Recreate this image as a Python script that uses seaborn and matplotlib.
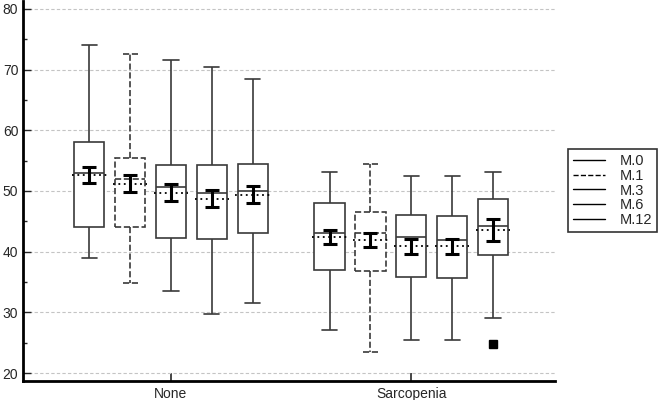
import numpy as np
import pandas as pd
import matplotlib
matplotlib.use("Agg")
import matplotlib.pyplot as plt
from matplotlib.lines import Line2D
from matplotlib.ticker import MultipleLocator
import seaborn as sns

# values
groups = ["None", "Sarcopenia"]
series = ["M.0", "M.1", "M.3", "M.6", "M.12"]

# box statistics per group, one value per series
whisker_low = [[39.0, 34.8, 33.5, 29.7, 31.5],
               [27.1, 23.5, 25.5, 25.5, 29.0]]
q1 = [[44.1, 44.0, 42.3, 42.1, 43.0],
      [37.0, 36.8, 35.8, 35.6, 39.4]]
median = [[53.0, 52.0, 50.7, 49.6, 50.0],
          [43.0, 43.0, 42.4, 41.9, 44.3]]
q3 = [[58.0, 55.5, 54.3, 54.3, 54.5],
      [48.1, 46.6, 46.0, 45.8, 48.7]]
whisker_high = [[74.1, 72.6, 71.5, 70.5, 68.5],
                [53.1, 54.4, 52.4, 52.4, 53.1]]

# mean and its confidence interval
mean = [[52.6, 51.2, 49.7, 48.7, 49.4],
        [42.5, 41.9, 40.9, 40.9, 43.6]]
ci_low = [[51.3, 49.8, 48.4, 47.4, 48.0],
          [41.3, 40.7, 39.7, 39.7, 41.8]]
ci_high = [[54.0, 52.6, 51.2, 50.2, 50.8],
           [43.6, 43.1, 42.1, 42.1, 45.4]]

# outliers: (group, series, value)
outliers = [("Sarcopenia", "M.12", 24.8)]

# five-number summaries as rows for seaborn
rows = []
for gi, g in enumerate(groups):
    for si, s in enumerate(series):
        for v in (whisker_low[gi][si], q1[gi][si], median[gi][si],
                  q3[gi][si], whisker_high[gi][si]):
            rows.append({"group": g, "series": s, "value": v})
df = pd.DataFrame(rows)

sns.set_style("white")
plt.rcParams["font.family"] = ["Liberation Sans", "DejaVu Sans"]

fig = plt.figure(figsize=(6.62, 4.0), dpi=100)
ax = fig.add_axes([0.034, 0.0475, 0.805, 0.95])

box_width = 0.85
edge = "#3a3a3a"
for s in series:
    ls = "--" if s == "M.1" else "-"
    sns.boxplot(data=df[df["series"] == s], x="group", y="value",
                hue="series", order=groups, hue_order=series, dodge=True,
                palette={k: "white" for k in series}, linecolor=edge,
                width=box_width, gap=0.26, whis=np.inf, linewidth=1.2,
                legend=False, ax=ax,
                boxprops={"linestyle": ls},
                whiskerprops={"linestyle": ls},
                capprops={"linestyle": ls},
                medianprops={"linestyle": ls})

# mean lines and CI error bars on the same dodge positions as the boxes
slot = box_width / len(series)
offsets = (np.arange(len(series)) - (len(series) - 1) / 2) * slot
for gi in range(len(groups)):
    xs = gi + offsets
    m = np.array(mean[gi])
    ax.hlines(m, xs - 0.072, xs + 0.072, colors="black",
              linestyles=(0, (1, 2)), linewidth=1.3, zorder=4)
    ax.errorbar(xs, m, yerr=[m - np.array(ci_low[gi]), np.array(ci_high[gi]) - m],
                fmt="none", ecolor="black", elinewidth=2.2,
                capsize=5, capthick=2.2, zorder=5)

for g, s, v in outliers:
    x = groups.index(g) + offsets[series.index(s)]
    ax.plot([x], [v], marker="s", color="black", markersize=6,
            linestyle="none", zorder=5)

ax.set_xlim(-0.618, 1.6)
ax.set_ylim(18.7, 81.3)
ax.yaxis.set_major_locator(MultipleLocator(10))
ax.yaxis.set_minor_locator(MultipleLocator(5))
ax.set_xlabel("")
ax.set_ylabel("")

ax.yaxis.grid(True, which="major", color="#c4c4c4", linestyle=(0, (3, 2)),
              linewidth=0.8)
ax.set_axisbelow(True)
for side in ("top", "right"):
    ax.spines[side].set_visible(False)
for side in ("left", "bottom"):
    ax.spines[side].set_linewidth(2)
    ax.spines[side].set_color("black")

ax.tick_params(axis="y", which="major", direction="in", length=6, width=1,
               labelsize=10, pad=3, left=True)
ax.tick_params(axis="y", which="minor", direction="in", length=3, width=1,
               left=True)
ax.tick_params(axis="x", direction="in", length=6, width=1.2,
               labelsize=10, pad=4, bottom=True)

handles = [Line2D([0], [0], color="black", linewidth=1,
                  linestyle="--" if s == "M.1" else "-") for s in series]
leg = fig.legend(handles, series, loc="upper left",
                 bbox_to_anchor=(0.858, 0.6275), borderaxespad=0,
                 frameon=True, fancybox=False, fontsize=10.5,
                 handlelength=2.2, handletextpad=1.0, labelspacing=0.05,
                 borderpad=0.35)
leg.get_frame().set_edgecolor("black")
leg.get_frame().set_linewidth(1.2)

fig.savefig("out.png", dpi=100)
